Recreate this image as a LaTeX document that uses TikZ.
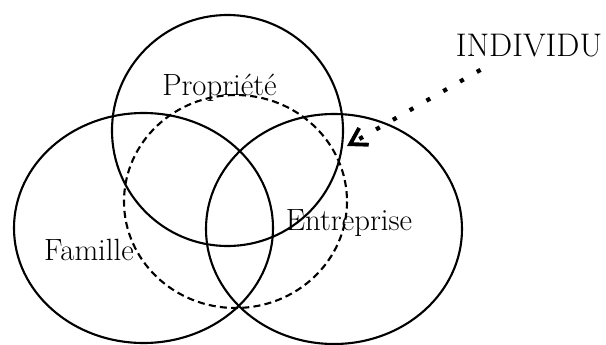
\documentclass[tikz,border=0pt]{standalone}
\usepackage{tikz}
\usetikzlibrary{arrows.meta,calc}

\begin{document}
\begin{tikzpicture}[
    x=0.02cm, y=-0.02cm,
    cercle/.style={line width=1.2pt},
    pointille/.style={cercle, dash pattern=on 4pt off 2.4pt},
    etiquette/.style={inner sep=0pt, anchor=base, font=\fontsize{17.5}{20}\selectfont},
    fleche/.style={line width=2.4pt, dash pattern=on 2.4pt off 8.6pt, -{Straight Barb[length=9pt, width=11pt, line width=2.2pt]}}
]
\useasboundingbox (0,0) rectangle (606,345);

\draw[cercle] (143.5,228) ellipse [x radius=129.5, y radius=115];
\draw[cercle] (334,229) ellipse [x radius=128, y radius=115];
\draw[cercle] (227.5,130.5) circle [radius=115.5];
\draw[pointille] (235.5,201.5) ellipse [x radius=111.5, y radius=106.5];

\node[etiquette] (prop) at (219.5,95) {Propriété};
\node[etiquette] (fam) at (89,260) {Famille};
\node[etiquette] (entr) at (349,230) {Entreprise};
\node[etiquette, font=\fontsize{18.6}{21}\selectfont] (indiv) at (529,56) {INDIVIDU};

\coordinate (cible) at (347,146);
\draw[fleche] ($(indiv.south west)+(25,13)$) -- (cible);
\end{tikzpicture}
\end{document}
